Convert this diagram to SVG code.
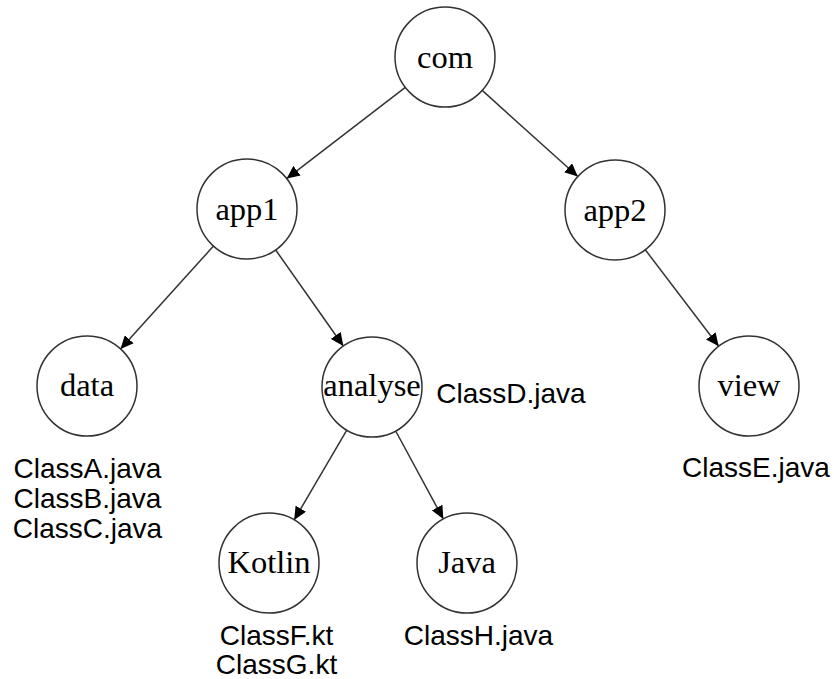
<svg xmlns="http://www.w3.org/2000/svg" width="834" height="679" viewBox="0 0 834 679">
  <style>
    .node circle { fill: #ffffff; stroke: #333333; stroke-width: 1.5; }
    .node text { font-family: "Liberation Serif", "Times New Roman", serif; font-size: 32.5px; fill: #000000; text-anchor: middle; }
    .edge { stroke: #333333; stroke-width: 1.5; fill: none; marker-end: url(#arrow); }
    .files { font-family: "Liberation Sans", Arial, sans-serif; font-size: 28px; fill: #000000; text-anchor: middle; }
  </style>
  <defs>
    <marker id="arrow" viewBox="0 0 13 12" refX="13" refY="6" markerWidth="13" markerHeight="12" markerUnits="userSpaceOnUse" orient="auto">
      <path d="M0,0 L13,6 L0,12 Z" fill="#000000"/>
    </marker>
  </defs>
  <rect width="834" height="679" fill="#ffffff"/>

  <!-- package tree connectors -->
  <g id="connectors">
    <line class="edge" x1="405.3" y1="87.4" x2="286.7" y2="178.6"/>
    <line class="edge" x1="482.2" y1="90.4" x2="577.8" y2="176.5"/>
    <line class="edge" x1="213.5" y1="246.0" x2="120.5" y2="349.0"/>
    <line class="edge" x1="275.7" y1="250.0" x2="343.3" y2="346.0"/>
    <line class="edge" x1="645.3" y1="249.8" x2="718.7" y2="346.2"/>
    <line class="edge" x1="346.8" y1="430.1" x2="294.2" y2="519.9"/>
    <line class="edge" x1="395.7" y1="431.0" x2="443.3" y2="519.0"/>
  </g>

  <g id="node-com" class="node">
    <circle cx="445" cy="57" r="50"/>
    <text x="445" y="68">com</text>
  </g>
  <g id="node-app1" class="node">
    <circle cx="247" cy="209" r="50"/>
    <text x="247" y="220">app1</text>
  </g>
  <g id="node-app2" class="node">
    <circle cx="615" cy="210" r="50"/>
    <text x="615" y="221">app2</text>
  </g>
  <g id="node-data" class="node">
    <circle cx="87" cy="386" r="50"/>
    <text x="87" y="396">data</text>
  </g>
  <g id="node-analyse" class="node">
    <circle cx="372" cy="387" r="50"/>
    <text x="372" y="396">analyse</text>
  </g>
  <g id="node-view" class="node">
    <circle cx="749" cy="386" r="50"/>
    <text x="749" y="396">view</text>
  </g>
  <g id="node-kotlin" class="node">
    <circle cx="269" cy="563" r="50"/>
    <text x="269" y="573">Kotlin</text>
  </g>
  <g id="node-java" class="node">
    <circle cx="467" cy="563" r="50"/>
    <text x="467" y="573">Java</text>
  </g>

  <!-- source files in each package -->
  <g id="files-data" class="files">
    <text x="87.5" y="478">ClassA.java</text>
    <text x="87.5" y="508">ClassB.java</text>
    <text x="87.5" y="538">ClassC.java</text>
  </g>
  <g id="files-analyse" class="files">
    <text x="511" y="403">ClassD.java</text>
  </g>
  <g id="files-view" class="files">
    <text x="756" y="477">ClassE.java</text>
  </g>
  <g id="files-kotlin" class="files">
    <text x="276.5" y="645">ClassF.kt</text>
    <text x="276.5" y="674">ClassG.kt</text>
  </g>
  <g id="files-java" class="files">
    <text x="478.5" y="645">ClassH.java</text>
  </g>
</svg>
